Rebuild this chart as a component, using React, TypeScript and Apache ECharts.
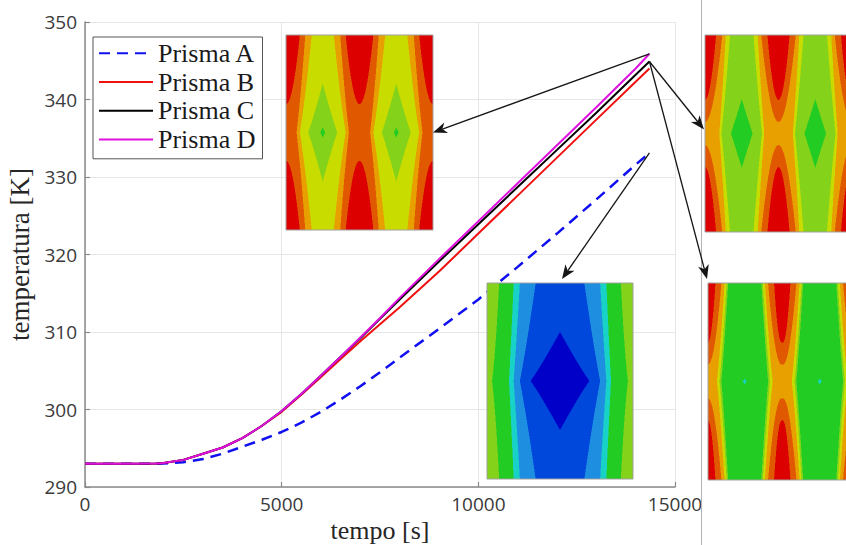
import React, { useEffect, useRef } from "react";
import * as echarts from "echarts";

// ---- data ----
const tempo = [0, 1000, 1800, 2000, 2500, 3000, 3500, 4000, 4500, 5000, 5500, 6000, 6500, 7000, 7500, 8000, 9000, 10000, 11000, 12000, 13000, 14000, 14350];
const prismaA = [293, 293, 293, 293.02, 293.2, 293.6, 294.3, 295.2, 296.1, 297.1, 298.3, 299.7, 301.3, 303.0, 304.8, 306.7, 310.4, 314.2, 318.4, 322.7, 327.1, 331.6, 333.1];
const prismaB = [293, 293, 293.02, 293.1, 293.5, 294.3, 295.1, 296.3, 297.9, 299.7, 301.9, 304.2, 306.5, 308.8, 311.0, 313.2, 317.8, 322.7, 327.6, 332.5, 337.4, 342.3, 344.0];
const prismaC = [293, 293, 293.02, 293.1, 293.5, 294.3, 295.1, 296.3, 297.9, 299.8, 302.0, 304.4, 306.8, 309.2, 311.7, 314.2, 319.1, 323.9, 328.7, 333.5, 338.3, 343.2, 344.9];
const prismaD = [293, 293, 293.02, 293.1, 293.5, 294.3, 295.1, 296.3, 297.9, 299.8, 302.0, 304.4, 306.8, 309.3, 311.8, 314.4, 319.4, 324.3, 329.2, 334.1, 339.0, 344.0, 345.9];
const seriesNames = ["Prisma A", "Prisma B", "Prisma C", "Prisma D"];
const seriesColors = ["#1010f0", "#f01010", "#000000", "#e010e0"];
const xMin = 0, xMax = 15000, xStep = 5000;
const yMin = 290, yMax = 350, yStep = 10;
const xTitle = "tempo [s]";
const yTitle = "temperatura [K]";

// contour colour levels (cold -> hot)
const levelColors = ["#0000c8", "#0048dc", "#1e8ee0", "#18d2c8", "#22cc22", "#84d21a", "#c8dc00", "#e8a000", "#e05800", "#dc0000"];

type Band = [number, number];
interface InsetSpec { x: number; y: number; w: number; h: number; centers: number[]; half: number; base: number; bands: Band[]; }

const insetD: InsetSpec = { x: 286, y: 35, w: 147, h: 195, centers: [0.25, 0.75], half: 0.25, base: 4,
  bands: [[0.11, -2.1], [0.58, -0.58], [0.83, 0.454], [0.9, 0.68], [1.07, 0.83]] };
const insetC: InsetSpec = { x: 705, y: 35, w: 147, h: 197, centers: [0.25, 0.75], half: 0.25, base: 4,
  bands: [[0.45, -0.84], [0.76, 0.48], [0.82, 0.63], [1.035, 0.74], [1.057, 0.89]] };
const insetB: InsetSpec = { x: 708, y: 283, w: 147, h: 197, centers: [0.25, 0.76], half: 0.25, base: 3,
  bands: [[0.08, -2.6], [0.84, 0.65], [0.88, 0.7], [0.93, 0.76], [1.033, 0.84], [1.033, 0.95]] };
const insetA: InsetSpec = { x: 487, y: 283, w: 146, h: 196, centers: [0.5], half: 0.5, base: 0,
  bands: [[0.59, -0.59], [0.76, 0.5], [0.84, 0.76], [0.89, 0.84], [0.994, 0.966]] };

function hexToRgb(h: string) {
  return [parseInt(h.slice(1, 3), 16), parseInt(h.slice(3, 5), 16), parseInt(h.slice(5, 7), 16)];
}

function makeContour(spec: InsetSpec): string {
  const s = 2;
  const W = Math.round(spec.w * s), H = Math.round(spec.h * s);
  const cv = document.createElement("canvas");
  cv.width = W; cv.height = H;
  const ctx = cv.getContext("2d")!;
  const img = ctx.createImageData(W, H);
  const rgb = levelColors.map(hexToRgb);
  for (let j = 0; j < H; j++) {
    const v = Math.abs((j + 0.5) / H - 0.5) * 2;
    for (let i = 0; i < W; i++) {
      const rx = (i + 0.5) / W;
      let d = 1;
      for (const c of spec.centers) d = Math.min(d, Math.abs(rx - c));
      const q = Math.min(d / spec.half, 1);
      const e = Math.sin((q * Math.PI) / 2);
      let lvl = spec.base;
      for (const [m, t] of spec.bands) if (e > m + (t - m) * v) lvl++;
      const col = rgb[Math.min(lvl, rgb.length - 1)];
      const k = (j * W + i) * 4;
      img.data[k] = col[0]; img.data[k + 1] = col[1]; img.data[k + 2] = col[2]; img.data[k + 3] = 255;
    }
  }
  ctx.putImageData(img, 0, 0);
  return cv.toDataURL("image/png");
}

function arrow(tail: number[], tip: number[]): any[] {
  const dx = tip[0] - tail[0], dy = tip[1] - tail[1];
  const len = Math.hypot(dx, dy);
  const ux = dx / len, uy = dy / len, nx = -uy, ny = ux;
  const L = 14, Wd = 5.5, notch = 4;
  const bx = tip[0] - (L - notch) * ux, by = tip[1] - (L - notch) * uy;
  return [
    { type: "line", z: 120, shape: { x1: tail[0], y1: tail[1], x2: bx, y2: by }, style: { stroke: "#151515", lineWidth: 1.3 } },
    { type: "polygon", z: 121, shape: { points: [
      [tip[0], tip[1]],
      [tip[0] - L * ux + Wd * nx, tip[1] - L * uy + Wd * ny],
      [bx, by],
      [tip[0] - L * ux - Wd * nx, tip[1] - L * uy - Wd * ny],
    ] }, style: { fill: "#151515" } },
  ];
}

export default function App() {
  const ref = useRef<HTMLDivElement>(null);
  useEffect(() => {
    if (!ref.current) return;
    const chart = echarts.init(ref.current, undefined, { renderer: "svg" });
    const dataSets = [prismaA, prismaB, prismaC, prismaD];
    const axisColor = "#8a8a8a";
    chart.setOption({
      animation: false,
      backgroundColor: "#ffffff",
      grid: { left: 85, right: 171, top: 22, bottom: 58, containLabel: false, outerBoundsMode: "none" },
      legend: {
        left: 93, top: 37, orient: "vertical", data: seriesNames,
        itemWidth: 54, itemHeight: 14, itemGap: 0, padding: [2, 7, 5, 5],
        borderColor: "#555555", borderWidth: 1, backgroundColor: "#ffffff", z: 30,
        itemStyle: { opacity: 0 },
        textStyle: { fontFamily: "Liberation Serif", fontSize: 26, color: "#1a1a1a", lineHeight: 28.7 },
      },
      xAxis: {
        type: "value", min: xMin, max: xMax, interval: xStep,
        name: xTitle, nameLocation: "middle", nameGap: 28,
        nameTextStyle: { fontFamily: "Liberation Serif", fontSize: 26, color: "#262626" },
        axisLine: { show: true, onZero: false, lineStyle: { color: axisColor, width: 1.5 } },
        axisTick: { show: true, inside: true, length: 5, lineStyle: { color: axisColor, width: 1.2 } },
        axisLabel: { fontFamily: "Open Sans", fontSize: 19, color: "#3a3a3a", margin: 7, formatter: (v: number) => String(v) },
        splitLine: { show: true, lineStyle: { color: "#e6e6e6", width: 1 } },
      },
      yAxis: {
        type: "value", min: yMin, max: yMax, interval: yStep,
        name: yTitle, nameLocation: "middle", nameGap: 47,
        nameTextStyle: { fontFamily: "Liberation Serif", fontSize: 27, color: "#262626" },
        axisLine: { show: true, onZero: false, lineStyle: { color: axisColor, width: 1.5 } },
        axisTick: { show: true, inside: true, length: 5, lineStyle: { color: axisColor, width: 1.2 } },
        axisLabel: { fontFamily: "Open Sans", fontSize: 19, color: "#3a3a3a", margin: 8, formatter: (v: number) => String(v) },
        splitLine: { show: true, lineStyle: { color: "#e6e6e6", width: 1 } },
      },
      series: seriesNames.map((name, i) => ({
        name, type: "line", symbol: "none", smooth: false,
        data: tempo.map((t, k) => [t, dataSets[i][k]]),
        lineStyle: i === 0
          ? { color: seriesColors[i], width: 2.5, type: [11, 7] }
          : { color: seriesColors[i], width: 2 },
        itemStyle: { color: seriesColors[i] },
        z: 2 + i,
      })),
    });

    const last = tempo.length - 1;
    const endD = chart.convertToPixel({ gridIndex: 0 }, [tempo[last], prismaD[last]]) as number[];
    const endC = chart.convertToPixel({ gridIndex: 0 }, [tempo[last], prismaC[last]]) as number[];
    const endA = chart.convertToPixel({ gridIndex: 0 }, [tempo[last], prismaA[last]]) as number[];

    const insets = [insetD, insetC, insetB, insetA];
    const graphics: any[] = [];
    graphics.push({ type: "line", z: 10, shape: { x1: 701.5, y1: 0, x2: 701.5, y2: 545 }, style: { stroke: "#b4b4b4", lineWidth: 1 } });
    for (const sp of insets) {
      graphics.push({ type: "image", z: 50, x: sp.x, y: sp.y, style: { image: makeContour(sp), width: sp.w, height: sp.h } });
      graphics.push({ type: "rect", z: 51, shape: { x: sp.x, y: sp.y, width: sp.w, height: sp.h }, style: { fill: "none", stroke: "#a0a0a0", lineWidth: 1 } });
    }
    graphics.push(...arrow(endD, [insetD.x + insetD.w, insetD.y + insetD.h * 0.5]));
    graphics.push(...arrow(endC, [insetC.x - 1, insetC.y + insetC.h * 0.48]));
    graphics.push(...arrow(endC, [insetB.x - 1, insetB.y - 4]));
    graphics.push(...arrow(endA, [insetA.x + 75, insetA.y - 4]));
    chart.setOption({ graphic: graphics });

    return () => chart.dispose();
  }, []);
  return <div ref={ref} style={{ position: "absolute", left: 0, top: 0, width: 846, height: 545, background: "#fff" }} />;
}
